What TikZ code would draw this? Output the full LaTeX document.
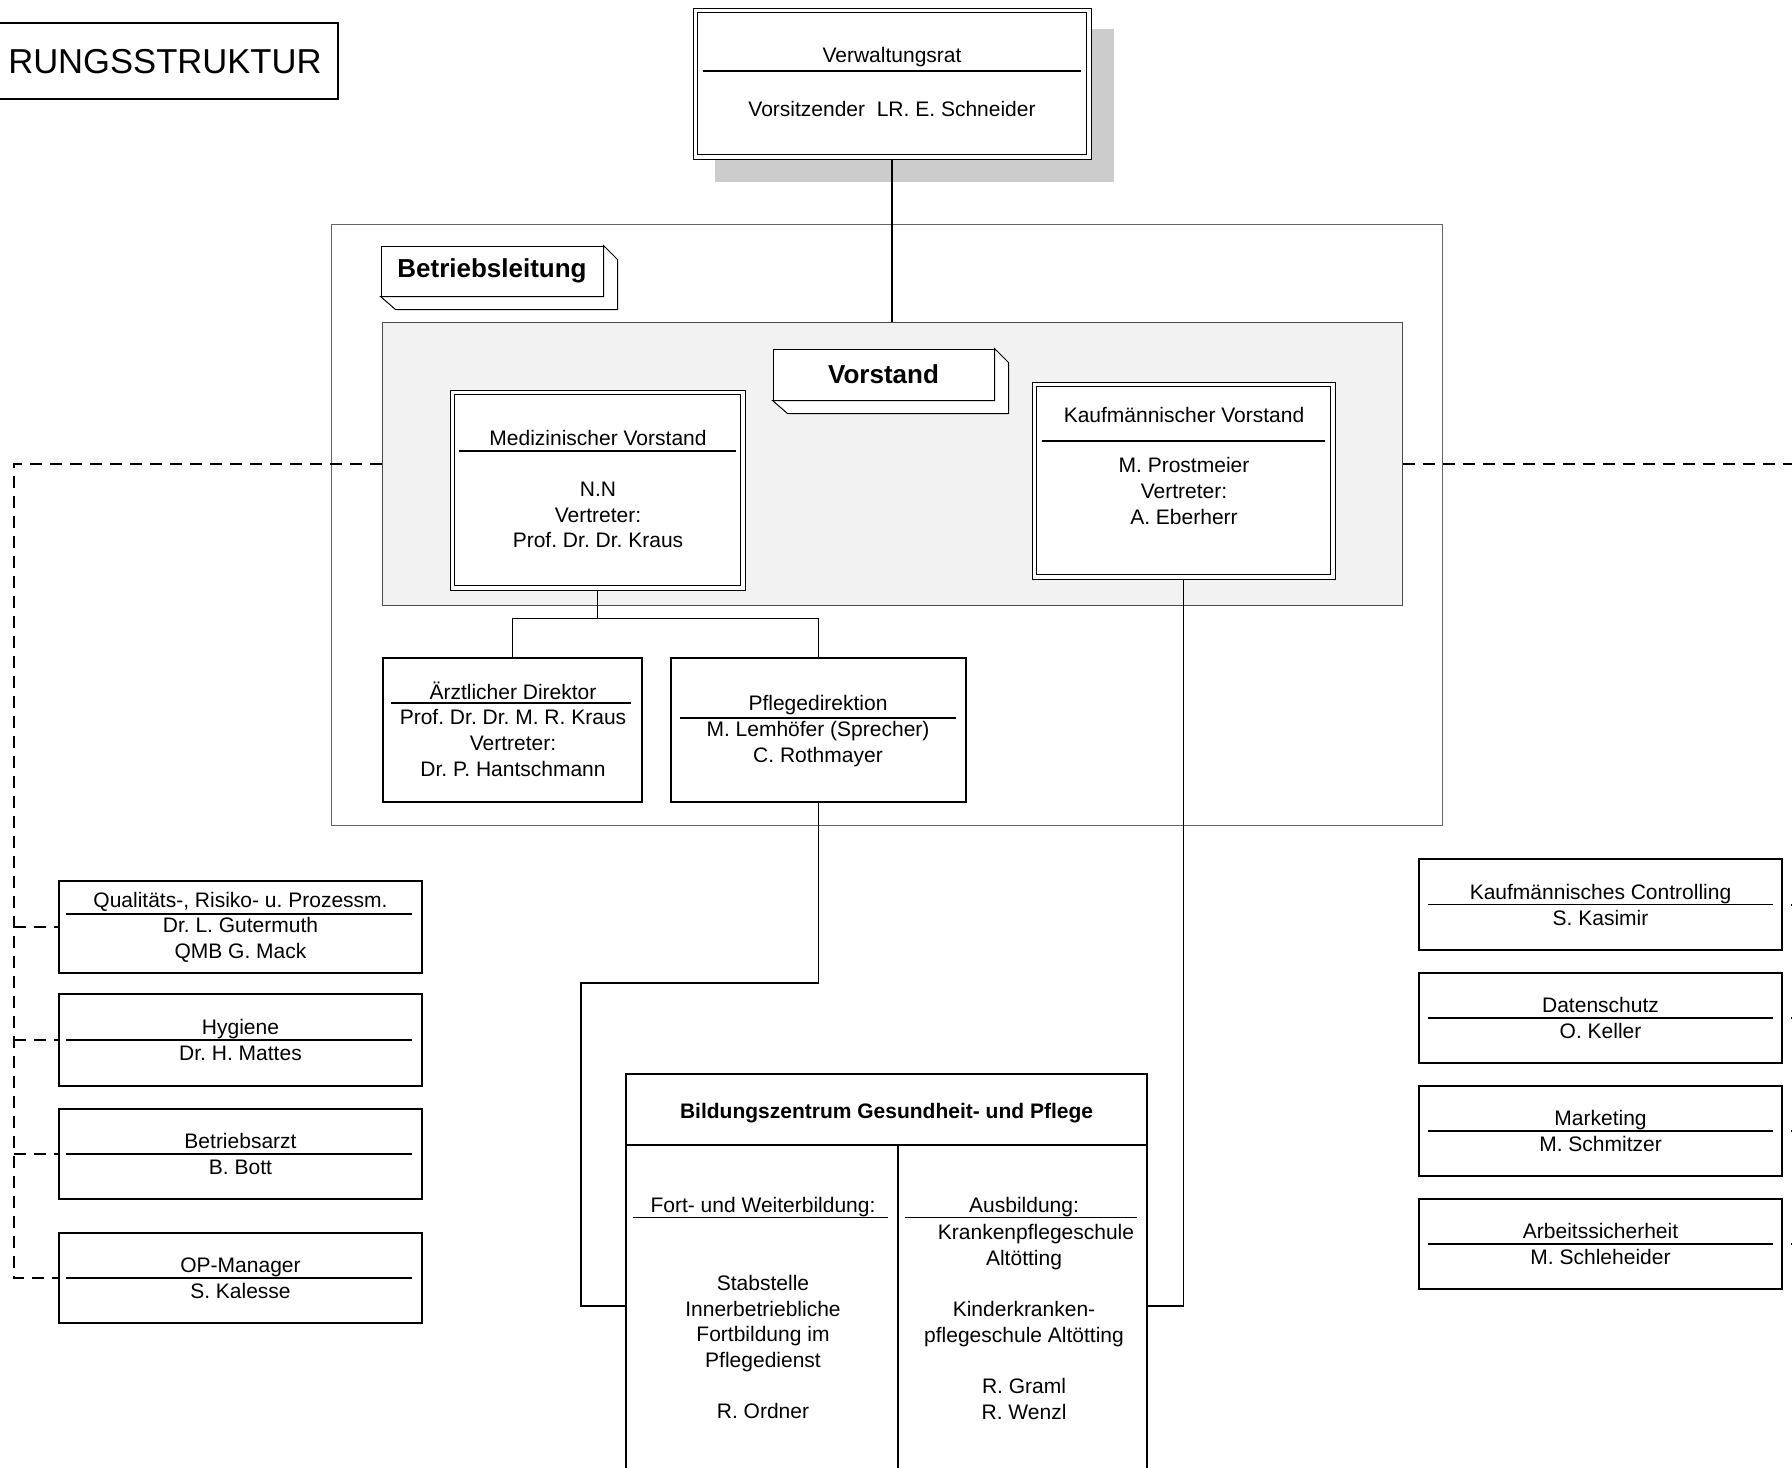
\documentclass[tikz,border=0pt]{standalone}
\usepackage{fontspec}
\setmainfont{Liberation Sans}
\usetikzlibrary{positioning, calc}
\frenchspacing

\begin{document}
\begin{tikzpicture}[x=0.5pt, y=-0.5pt,
		every node/.style={font=\fontsize{10.5}{12.8}\selectfont, align=center, inner sep=0pt},
		box/.style={draw, line width=0.8pt, fill=white},
		doppelbox/.style={draw, line width=0.5pt, fill=white},
		innen/.style={line width=0.9pt},
		kiste/.style={draw, line width=0.5pt, fill=white, font=\fontsize{13}{15}\bfseries\selectfont},
		rahmen/.style={draw=black!60, line width=0.5pt},
		linie/.style={line width=0.7pt},
		trenner/.style={line width=0.6pt},
		stab/.style={line width=1pt, dash pattern=on 6pt off 4pt}]
		\useasboundingbox (0,0) rectangle (1792,1467);
		
		\node[box, line width=0.6pt, minimum width=189pt, minimum height=38pt] (titel) at (149,61) {};
		\node[anchor=east, font=\fontsize{17.3}{20}\selectfont] (titeltext) at (322,62) {RUNGSSTRUKTUR};
		
		\node[rahmen, minimum width=555.5pt, minimum height=300.5pt] (betrieb) at (886.5,524.5) {};
		\node[rahmen, draw=black!70, fill=black!5, minimum width=510pt, minimum height=141.5pt] (vst) at (892,463.5) {};
		
		\fill[black!20] (715,29) rectangle (1114,182);
		\node[doppelbox, minimum width=199pt, minimum height=75.5pt] (vr) at (892,83.5) {};
		\draw[innen] ($(vr.north west)+(5,5)$) rectangle ($(vr.south east)+(-5,-5)$);
		\draw[trenner] (vr.west)++(10,-12.5) --++(378,0);
		\node (vrtitel) at (892,57) {Verwaltungsrat};
		\node (vrname) at (892,109) {Vorsitzender\ \ LR. E. Schneider};
		\draw[linie] (vr.south) -- (vr.south |- vst.north);
		
		\node[kiste, minimum width=111pt, minimum height=25pt] (bl) at (492,271) {Betriebsleitung};
		\draw[line width=0.5pt, fill=white] (bl.north east) --++(14,14) --++(0,50) --++(-222,0) -- (bl.south west) -- (bl.south east) -- cycle;
		
		\node[kiste, minimum width=110.5pt, minimum height=25.5pt] (vlabel) at (883.5,374.5) {Vorstand};
		\draw[line width=0.5pt, fill=white] (vlabel.north east) --++(14,14) --++(0,51) --++(-221,0) -- (vlabel.south west) -- (vlabel.south east) -- cycle;
		
		\node[doppelbox, minimum width=147.5pt, minimum height=100pt] (mv) at (597.5,490) {};
		\draw[innen] ($(mv.north west)+(5,5)$) rectangle ($(mv.south east)+(-5,-5)$);
		\draw[trenner] (mv.west)++(9,-39) --++(277,0);
		\node (mvtitel) at (598,438) {Medizinischer Vorstand};
		\node (mvname) at (598,515) {N.N\\Vertreter:\\Prof. Dr. Dr. Kraus};
		
		\node[doppelbox, minimum width=151.5pt, minimum height=98.5pt] (kv) at (1183.5,480.5) {};
		\draw[innen] ($(kv.north west)+(5,5)$) rectangle ($(kv.south east)+(-5,-5)$);
		\draw[trenner] (kv.west)++(10,-39.5) --++(283,0);
		\node (kvtitel) at (1184,415) {Kaufmännischer Vorstand};
		\node (kvname) at (1184,491) {M. Prostmeier\\Vertreter:\\A. Eberherr};
		
		\node[box, minimum width=129.5pt, minimum height=72pt] (ad) at (512.5,730) {};
		\draw[trenner] (ad.west)++(9,-27) --++(240,0);
		\node (adtitel) at (513,691) {Ärztlicher Direktor};
		\node (adname) at (513,743) {Prof. Dr. Dr. M. R. Kraus\\Vertreter:\\Dr. P. Hantschmann};
		
		\node[box, minimum width=147.5pt, minimum height=72pt] (pd) at (818.5,730) {};
		\draw[trenner] (pd.west)++(10,-12) --++(276,0);
		\node (pdtitel) at (818,705) {Pflegedirektion};
		\node (pdname) at (818,744) {M. Lemhöfer (Sprecher)\\C. Rothmayer};
		
		\draw[linie] (mv.south) --++(0,28) coordinate (gabel);
		\draw[linie] (ad.north) |- (gabel) -| (pd.north);
		
		\node[box, line width=0.6pt, minimum width=260.5pt, minimum height=35.5pt] (bildkopf) at (886.5,1109.5) {};
		\node[font=\fontsize{10.5}{12.8}\bfseries\selectfont] (bildtitel) at (886.5,1113) {Bildungszentrum Gesundheit- und Pflege};
		\node[box, line width=0.6pt, minimum width=136pt, minimum height=177.5pt] (bildl) at (762,1322.5) {};
		\node[box, line width=0.6pt, minimum width=124.5pt, minimum height=177.5pt] (bildr) at (1022.5,1322.5) {};
		
		\node (bildltitel) at (763,1207) {Fort- und Weiterbildung:};
		\draw[trenner] (bildl.north west)++(8,73) --++(255,0);
		\node (bildltext) at (763,1347) {Stabstelle\\Innerbetriebliche\\Fortbildung im\\Pflegedienst\\[12.8pt]R. Ordner};
		
		\node (bildrtitel) at (1024,1207) {Ausbildung:};
		\draw[trenner] (bildr.north west)++(8,73) --++(232,0);
		\node (bildrtext) at (1024,1322) {\hspace*{12pt}Krankenpflegeschule\\Altötting\\[12.8pt]Kinderkranken-\\pflegeschule Altötting\\[12.8pt]R. Graml\\R. Wenzl};
		
		\coordinate (knick) at (581,983);
		\draw[linie] (pd.south) |- (knick) |- (bildl.west |- 0,1306);
		\draw[linie] (kv.south) |- (bildr.east |- 0,1306);
		
		\node[box, minimum width=181.5pt, minimum height=46pt] (qm) at (240.5,927) {};
		\draw[trenner] (qm.west)++(8,-13) --++(346,0);
		\node (qmtext) at (240.5,927) {Qualitäts-, Risiko- u. Prozessm.\\Dr. L. Gutermuth\\QMB G. Mack};
		
		\node[box, minimum width=181.5pt, minimum height=46pt] (hyg) at (240.5,1040) {};
		\draw[trenner] (hyg.west)++(8,0) --++(346,0);
		\node[anchor=base] (hygtitel) at ($(hyg.center)+(0,-5.5)$) {Hygiene};
		\node[anchor=base] (hygname) at ($(hyg.center)+(0,20.5)$) {Dr. H. Mattes};
		
		\node[box, minimum width=181.5pt, minimum height=45pt] (barzt) at (240.5,1154) {};
		\draw[trenner] (barzt.west)++(8,0) --++(346,0);
		\node[anchor=base] (barzttitel) at ($(barzt.center)+(0,-5.5)$) {Betriebsarzt};
		\node[anchor=base] (barztname) at ($(barzt.center)+(0,20.5)$) {B. Bott};
		
		\node[box, minimum width=181.5pt, minimum height=45pt] (opm) at (240.5,1278) {};
		\draw[trenner] (opm.west)++(8,0) --++(346,0);
		\node[anchor=base] (opmtitel) at ($(opm.center)+(0,-5.5)$) {OP-Manager};
		\node[anchor=base] (opmname) at ($(opm.center)+(0,20.5)$) {S. Kalesse};
		
		\node[box, minimum width=181.5pt, minimum height=45.5pt] (kc) at (1600.5,904.5) {};
		\draw[trenner] (kc.west)++(10,0) --++(345,0);
		\node[anchor=base] (kctitel) at ($(kc.center)+(0,-5.5)$) {Kaufmännisches Controlling};
		\node[anchor=base] (kcname) at ($(kc.center)+(0,20.5)$) {S. Kasimir};
		
		\node[box, minimum width=181.5pt, minimum height=45pt] (ds) at (1600.5,1018) {};
		\draw[trenner] (ds.west)++(10,0) --++(345,0);
		\node[anchor=base] (dstitel) at ($(ds.center)+(0,-5.5)$) {Datenschutz};
		\node[anchor=base] (dsname) at ($(ds.center)+(0,20.5)$) {O. Keller};
		
		\node[box, minimum width=181.5pt, minimum height=45pt] (mk) at (1600.5,1131) {};
		\draw[trenner] (mk.west)++(10,0) --++(345,0);
		\node[anchor=base] (mktitel) at ($(mk.center)+(0,-5.5)$) {Marketing};
		\node[anchor=base] (mkname) at ($(mk.center)+(0,20.5)$) {M. Schmitzer};
		
		\node[box, minimum width=181.5pt, minimum height=45pt] (asi) at (1600.5,1244) {};
		\draw[trenner] (asi.west)++(10,0) --++(345,0);
		\node[anchor=base] (asititel) at ($(asi.center)+(0,-5.5)$) {Arbeitssicherheit};
		\node[anchor=base] (asiname) at ($(asi.center)+(0,20.5)$) {M. Schleheider};
		
		\coordinate (leiste) at (14,0);
		\coordinate (rand) at (1800,0);
		\draw[stab] (vst.west) -- (vst.west -| leiste) |- (opm.west);
		\draw[stab] (qm.west -| leiste) -- (qm.west);
		\draw[stab] (hyg.west -| leiste) -- (hyg.west);
		\draw[stab] (barzt.west -| leiste) -- (barzt.west);
		\draw[stab] (vst.east) -- (vst.east -| rand);
		\draw[stab, dash phase=6pt] (kc.east) -- (kc.east -| rand);
		\draw[stab, dash phase=6pt] (ds.east) -- (ds.east -| rand);
		\draw[stab, dash phase=6pt] (mk.east) -- (mk.east -| rand);
		\draw[stab, dash phase=6pt] (asi.east) -- (asi.east -| rand);
	\end{tikzpicture}
\end{document}
